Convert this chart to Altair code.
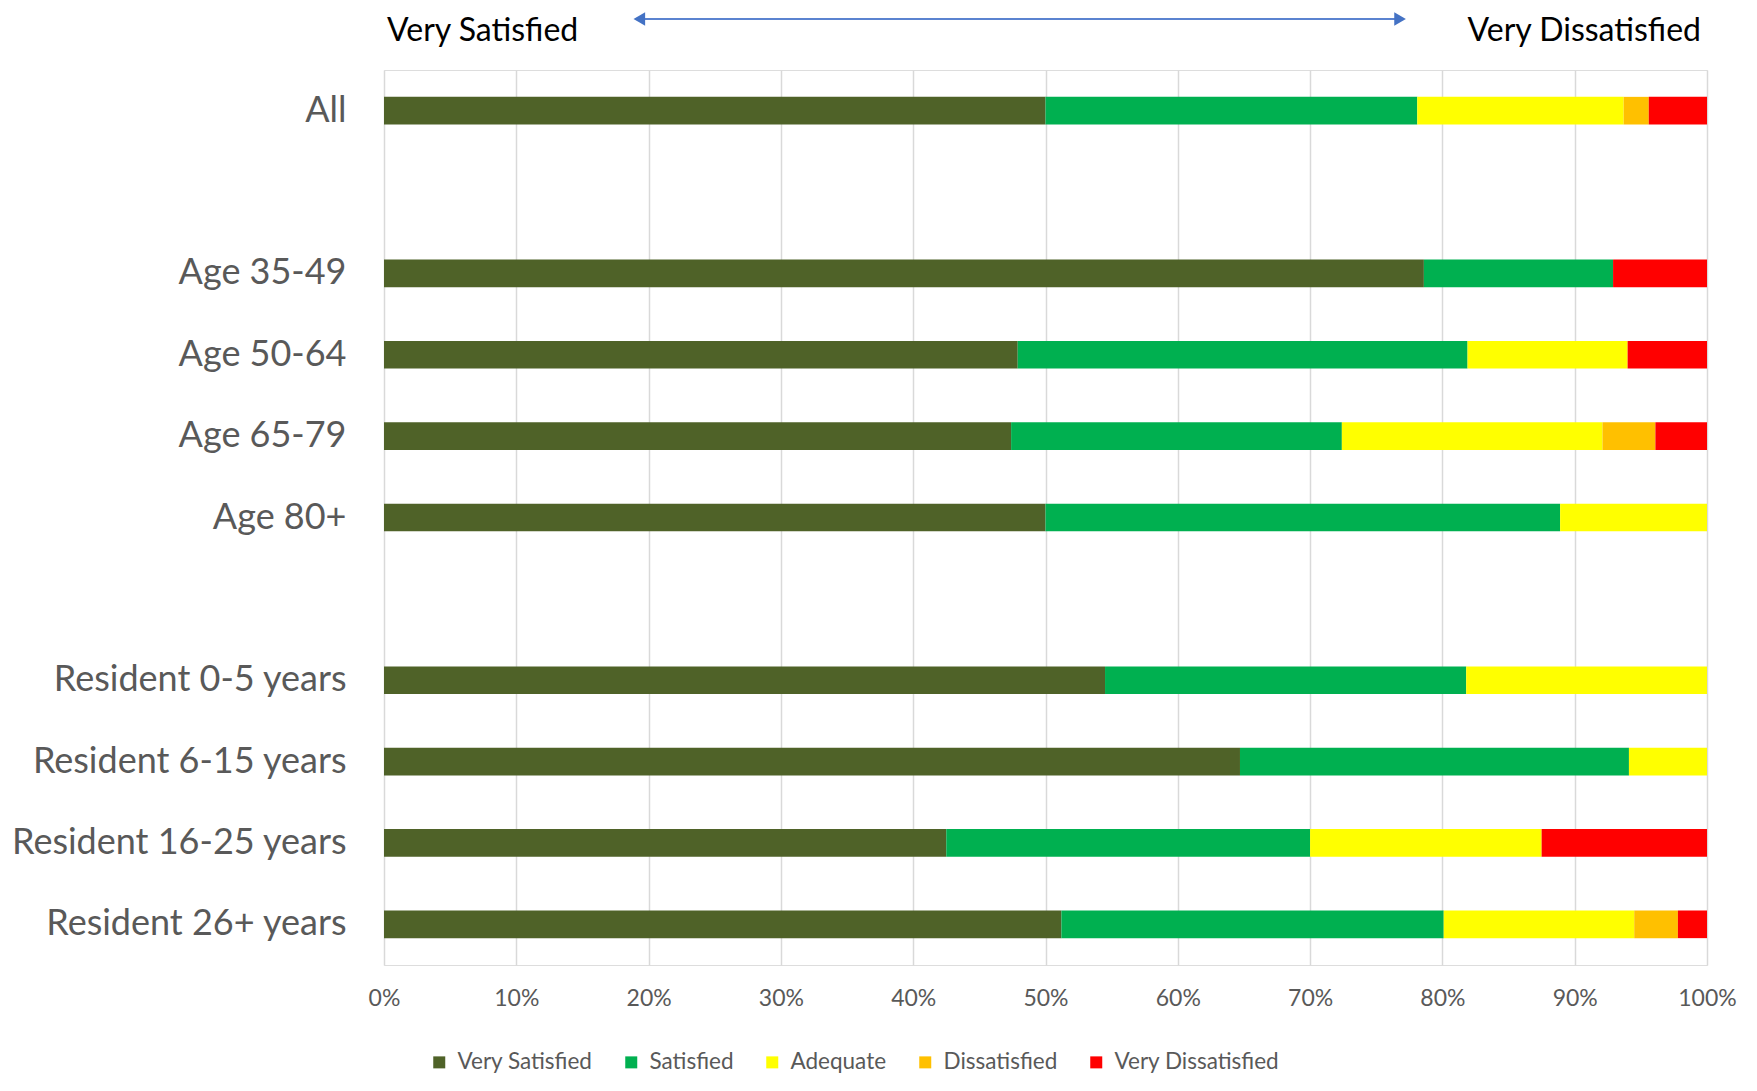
import altair as alt
import pandas as pd

categories = ["All", "Age 35-49", "Age 50-64", "Age 65-79", "Age 80+",
              "Resident 0-5 years", "Resident 6-15 years",
              "Resident 16-25 years", "Resident 26+ years"]
y_order = ["All", "gap1", "Age 35-49", "Age 50-64", "Age 65-79", "Age 80+", "gap2",
           "Resident 0-5 years", "Resident 6-15 years",
           "Resident 16-25 years", "Resident 26+ years"]

series = ["Very Satisfied", "Satisfied", "Adequate", "Dissatisfied", "Very Dissatisfied"]
colors = ["#4F6228", "#00B050", "#FFFF00", "#FFC000", "#FF0000"]

very_satisfied = [50.0, 78.6, 47.9, 47.4, 50.0, 54.5, 64.7, 42.5, 51.2]
satisfied = [28.1, 14.3, 34.0, 25.0, 38.9, 27.3, 29.4, 27.5, 28.9]
adequate = [15.6, 0.0, 12.1, 19.7, 11.1, 18.2, 5.9, 17.5, 14.4]
dissatisfied = [1.9, 0.0, 0.0, 4.0, 0.0, 0.0, 0.0, 0.0, 3.3]
very_dissatisfied = [4.4, 7.1, 6.0, 3.9, 0.0, 0.0, 0.0, 12.5, 2.2]

x_ticks = [0, 10, 20, 30, 40, 50, 60, 70, 80, 90, 100]
header_left = "Very Satisfied"
header_right = "Very Dissatisfied"

values = [very_satisfied, satisfied, adequate, dissatisfied, very_dissatisfied]
rows = []
for si, (name, vals) in enumerate(zip(series, values)):
    for cat, v in zip(categories, vals):
        rows.append({"group": cat, "response": name, "pct": v, "order": si})
df = pd.DataFrame(rows)

FONT = "Lato"
xscale = alt.Scale(domain=[0, 100], nice=False, zero=True)

bars = alt.Chart(df).mark_bar().encode(
    x=alt.X("pct:Q", stack="zero", scale=xscale,
            axis=alt.Axis(values=x_ticks, labelExpr="datum.value + '%'", title=None,
                          grid=True, gridColor="#D9D9D9", gridWidth=1.5,
                          ticks=False, domain=False, labelFont=FONT, labelFontSize=23,
                          labelColor="#595959", labelPadding=22, labelFlush=False)),
    y=alt.Y("group:N", sort=y_order,
            scale=alt.Scale(domain=y_order, paddingInner=0.66, paddingOuter=0.33),
            axis=alt.Axis(title=None, ticks=False, domain=False, grid=False,
                          labelExpr="slice(datum.label,0,3)=='gap' ? '' : datum.label",
                          labelFont=FONT, labelFontSize=36, labelColor="#595959",
                          labelPadding=38, labelLimit=600)),
    color=alt.Color("response:N", scale=alt.Scale(domain=series, range=colors),
                    legend=alt.Legend(title=None, orient="none", direction="horizontal",
                                      legendX=44, legendY=981, padding=0,
                                      symbolType="square", symbolSize=144,
                                      symbolStrokeWidth=0, labelOffset=7,
                                      columnPadding=27, labelFont=FONT, labelLimit=400,
                                      labelFontSize=22.5, labelColor="#595959")),
    order=alt.Order("order:Q"),
)

hdr = pd.DataFrame({"x": [0, 100], "label": [header_left, header_right]})
left_text = alt.Chart(hdr[hdr.x == 0]).mark_text(
    align="left", baseline="middle", font=FONT, fontSize=32, color="#000000", dx=3
).encode(x=alt.X("x:Q", scale=xscale), y=alt.value(-39), text="label:N")
right_text = alt.Chart(hdr[hdr.x == 100]).mark_text(
    align="right", baseline="middle", font=FONT, fontSize=32, color="#000000", dx=-6
).encode(x=alt.X("x:Q", scale=xscale), y=alt.value(-39), text="label:N")

arrow_df = pd.DataFrame({"x1": [19.3], "x2": [76.8]})
arrow_line = alt.Chart(arrow_df).mark_rule(color="#5B83D0", strokeWidth=2).encode(
    x=alt.X("x1:Q", scale=xscale), x2="x2:Q", y=alt.value(-51))
heads_df = pd.DataFrame({"x": [19.3, 76.8], "shape": ["triangle-left", "triangle-right"]})
heads = alt.Chart(heads_df).mark_point(filled=True, color="#4472C4", size=180, opacity=1).encode(
    x=alt.X("x:Q", scale=xscale), y=alt.value(-51),
    shape=alt.Shape("shape:N", scale=None, legend=None))

chart = alt.layer(bars, arrow_line, heads, left_text, right_text).properties(
    width=1323, height=895,
    autosize=alt.AutoSizeParams(type="none"),
    padding={"left": 376, "top": 62, "right": 34, "bottom": 112},
).configure_view(stroke=None).configure(font=FONT)

chart.save("out.html", embed_options={"renderer": "svg", "actions": False})
